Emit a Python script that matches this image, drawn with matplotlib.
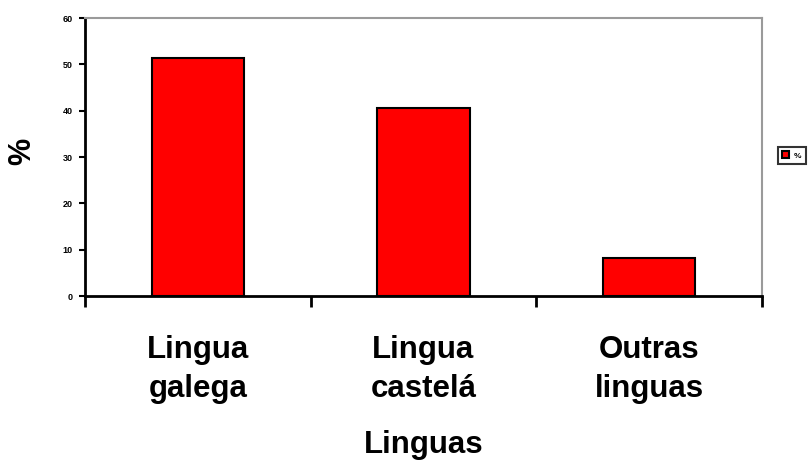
import matplotlib.pyplot as plt
from matplotlib.ticker import FixedLocator

# values
linguas = ['Lingua\ngalega', 'Lingua\ncastelá', 'Outras\nlinguas']
porcentaxe = [51.4, 40.6, 8.2]
yticks = [0, 10, 20, 30, 40, 50, 60]

plt.rcParams['font.family'] = ['Liberation Sans', 'DejaVu Sans']
plt.rcParams['font.weight'] = 'bold'

fig = plt.figure(figsize=(8.08, 4.61), dpi=100)
ax = fig.add_axes([85 / 808, 165 / 461, 677 / 808, 278 / 461])

x = range(len(linguas))
ax.bar(x, porcentaxe, width=0.41, color='#ff0000', edgecolor='black',
       linewidth=1.5, label='%', zorder=3)

ax.set_xlim(-0.5, len(linguas) - 0.5)
ax.set_ylim(0, 60)
ax.set_yticks(yticks)
ax.set_yticklabels([str(v) for v in yticks], fontsize=6.5, fontweight='bold')
ax.tick_params(axis='y', direction='out', length=4, width=1.5, pad=5)

ax.set_xticks(list(x))
ax.set_xticklabels(linguas, fontsize=22.5, fontweight='bold', linespacing=1.4)
ax.tick_params(axis='x', which='major', length=0, pad=28)
ax.xaxis.set_minor_locator(FixedLocator([i - 0.5 for i in range(len(linguas) + 1)]))
ax.tick_params(axis='x', which='minor', direction='out', length=8, width=2)

ax.set_xlabel('Linguas', fontsize=22.5, fontweight='bold', labelpad=18.5)
ax.set_ylabel('%', fontsize=22, fontweight='bold')
ax.yaxis.set_label_coords(-0.070, 0.52)

for side in ['left', 'bottom']:
    ax.spines[side].set_linewidth(2)
    ax.spines[side].set_color('black')
for side in ['top', 'right']:
    ax.spines[side].set_linewidth(1.5)
    ax.spines[side].set_color('#9a9a9a')

leg = fig.legend(loc='center left', bbox_to_anchor=(778 / 808, 1 - 155.5 / 461),
                 fontsize=6, frameon=True, fancybox=False, handlelength=0.8,
                 handleheight=0.8, handletextpad=0.6, borderpad=0.5,
                 borderaxespad=0)
leg.get_frame().set_edgecolor('black')
leg.get_frame().set_linewidth(1.5)

fig.savefig('out.png', dpi=100)
